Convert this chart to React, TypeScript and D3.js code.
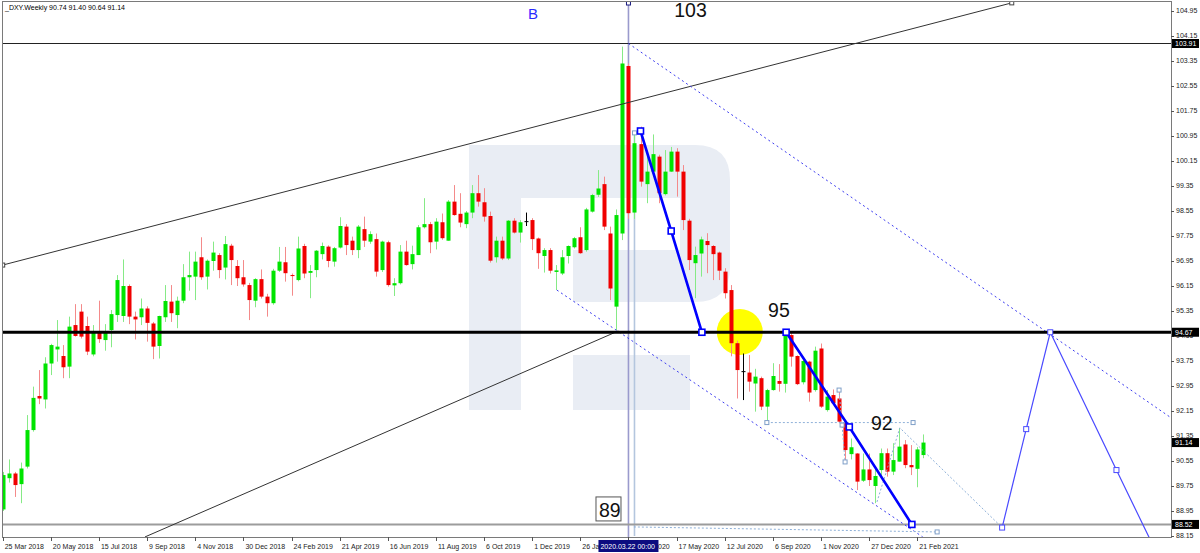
import React from "react";
import * as d3 from "d3";

// ---- weekly OHLC, first week 25 Mar 2018 ----
const opens = [
  89.0, 90.0, 90.15, 89.81, 90.37, 91.54, 92.63, 92.52, 93.67, 94.12,
  93.91, 93.57, 94.9, 95.33, 94.87, 93.96, 94.66, 94.42, 94.74, 95.22,
  95.19, 96.15, 95.17, 95.15, 95.43, 94.95, 94.23, 95.15, 95.65, 95.22,
  95.68, 96.43, 96.45, 97.07, 96.45, 96.95, 97.14, 96.74, 97.44, 96.79,
  96.43, 96.18, 95.68, 96.37, 95.81, 95.6, 96.64, 96.91, 96.5, 96.34,
  97.43, 96.57, 96.66, 97.17, 97.41, 96.93, 97.38, 98.05, 97.6, 97.3,
  97.97, 97.57, 97.65, 96.66, 97.55, 96.17, 96.24, 97.25, 96.85, 97.14,
  98.03, 98.13, 97.57, 98.19, 97.6, 98.85, 98.46, 98.13, 98.5, 99.12,
  98.83, 98.39, 97.07, 97.6, 97.03, 98.24, 97.86, 98.21, 98.26, 97.67,
  97.11, 97.3, 96.6, 96.55, 97.11, 97.39, 97.71, 97.3, 98.53, 99.07,
  99.41, 97.83, 95.49, 97.83, 103.19, 98.5, 100.69, 99.41, 99.81, 100.29,
  99.09, 99.81, 100.45, 99.81, 98.24, 96.88, 97.19, 97.59, 97.43, 97.22,
  96.61, 96.02, 94.32, 93.41, 93.38, 93.03, 93.2, 92.29, 92.82, 93.11,
  93.02, 94.58, 93.91, 93.07, 93.73, 92.82, 94.15, 92.18, 92.66, 92.55,
  91.76, 90.77, 90.79, 89.92, 90.28, 89.75, 90.26, 90.8, 90.21, 90.53,
  91.08, 90.42, 90.3, 90.74,
];
const highs = [
  90.2, 90.6, 90.2, 90.5, 92.02, 92.93, 93.46, 93.87, 94.3, 95.06,
  94.26, 95.17, 95.57, 95.57, 95.17, 94.9, 95.68, 94.93, 95.38, 96.5,
  97.0, 96.2, 95.33, 95.75, 95.5, 95.0, 95.2, 96.18, 96.18, 95.81,
  96.85, 97.25, 97.25, 97.71, 97.0, 97.57, 97.2, 97.75, 97.5, 96.98,
  96.98, 96.25, 96.4, 96.68, 95.9, 96.7, 97.4, 97.4, 96.55, 97.73,
  97.5, 96.82, 97.3, 97.54, 97.45, 97.4, 98.35, 98.13, 97.73, 98.1,
  98.37, 97.9, 97.83, 97.6, 97.6, 96.4, 97.46, 97.6, 97.44, 98.1,
  98.96, 98.2, 98.32, 98.47, 98.9, 99.38, 99.12, 98.55, 99.38, 99.7,
  99.28, 98.53, 97.73, 97.73, 98.26, 98.32, 98.26, 98.5, 98.32, 97.7,
  97.36, 97.36, 96.82, 97.3, 97.45, 97.72, 98.03, 98.65, 99.1, 99.86,
  99.65, 98.05, 98.6, 103.81, 103.27, 101.05, 101.25, 100.29, 101.0, 100.35,
  100.5, 100.6, 100.56, 100.02, 98.3, 97.41, 97.73, 97.84, 97.46, 97.25,
  96.72, 96.18, 94.4, 93.99, 93.94, 93.5, 93.25, 92.86, 93.68, 93.65,
  94.76, 94.65, 93.93, 93.8, 93.76, 94.21, 94.31, 92.82, 92.84, 92.82,
  91.78, 91.27, 90.8, 90.79, 90.79, 90.37, 90.95, 90.95, 91.12, 91.6,
  91.22, 91.06, 91.0, 91.4,
];
const lows = [
  88.95, 89.86, 89.4, 89.2, 90.31, 91.49, 92.37, 92.23, 93.3, 93.73,
  93.2, 93.2, 94.53, 94.47, 93.94, 93.9, 94.33, 94.08, 94.19, 95.0,
  95.0, 94.93, 94.44, 94.9, 94.37, 93.81, 93.83, 95.0, 95.0, 94.8,
  95.6, 96.0, 95.7, 96.35, 96.04, 96.64, 96.4, 96.36, 96.18, 96.15,
  96.13, 95.06, 95.47, 95.75, 95.17, 95.55, 96.6, 96.29, 95.84, 96.3,
  96.4, 95.76, 96.43, 97.0, 96.75, 96.77, 97.35, 97.14, 97.14, 97.04,
  97.4, 97.5, 96.45, 96.6, 96.13, 95.83, 96.2, 96.8, 96.68, 97.14,
  97.99, 97.2, 97.32, 97.63, 97.6, 98.4, 98.03, 98.0, 98.32, 98.69,
  98.21, 96.9, 96.9, 96.98, 96.98, 97.83, 97.54, 98.07, 97.3, 96.7,
  96.58, 96.55, 96.02, 96.5, 96.87, 97.35, 97.18, 97.25, 98.5, 99.0,
  97.94, 95.7, 94.74, 97.62, 98.3, 98.3, 99.33, 98.8, 99.75, 98.8,
  99.05, 99.8, 99.01, 97.94, 96.66, 95.76, 96.45, 96.56, 96.34, 96.34,
  95.75, 93.9, 92.55, 92.5, 92.77, 92.13, 92.18, 91.76, 92.8, 92.77,
  92.74, 93.57, 92.98, 93.0, 92.45, 92.77, 92.25, 92.13, 92.34, 91.76,
  90.47, 90.6, 89.62, 89.88, 89.75, 89.2, 90.07, 90.05, 90.1, 90.53,
  90.32, 90.1, 89.71, 90.64,
];
const closes = [
  90.1, 90.15, 89.78, 90.31, 91.54, 92.57, 92.55, 93.67, 94.26, 94.21,
  93.55, 94.85, 94.55, 94.53, 94.05, 94.66, 94.45, 94.66, 95.25, 96.34,
  96.15, 95.17, 95.08, 95.43, 94.97, 94.21, 95.19, 95.67, 95.28, 95.68,
  96.43, 96.5, 96.93, 96.43, 96.96, 97.22, 96.66, 97.49, 96.98, 96.4,
  96.2, 95.7, 96.37, 95.81, 95.6, 96.64, 96.93, 96.56, 96.47, 97.35,
  96.55, 96.63, 97.28, 97.43, 96.95, 97.36, 98.07, 97.46, 97.3, 98.05,
  97.6, 97.81, 96.61, 97.57, 96.18, 96.24, 97.25, 96.82, 97.17, 98.03,
  98.13, 97.55, 98.21, 97.68, 98.85, 98.42, 98.18, 98.5, 99.12, 98.85,
  98.37, 96.96, 97.6, 97.03, 98.24, 97.86, 98.19, 98.21, 97.65, 97.2,
  97.3, 96.64, 96.65, 97.07, 97.43, 97.68, 97.2, 98.6, 99.06, 99.27,
  98.05, 96.07, 98.42, 103.27, 98.48, 100.72, 99.49, 99.81, 100.37, 99.12,
  99.81, 100.45, 99.81, 98.26, 96.98, 97.14, 97.64, 97.46, 97.17, 96.64,
  95.92, 94.32, 93.46, 93.41, 93.09, 93.25, 92.29, 92.82, 93.27, 93.02,
  94.74, 93.89, 93.01, 93.75, 92.74, 94.08, 92.29, 92.61, 92.4, 91.81,
  90.9, 90.99, 89.89, 90.28, 89.94, 90.07, 90.8, 90.21, 90.58, 91.01,
  90.42, 90.35, 90.92, 91.14,
];

const symbolTitle = "_DXY.Weekly  90.74 91.40 90.64 91.14";
const xTickStep = 8;
const xTickLabels = [
  "25 Mar 2018", "20 May 2018", "15 Jul 2018", "9 Sep 2018", "4 Nov 2018",
  "30 Dec 2018", "24 Feb 2019", "21 Apr 2019", "16 Jun 2019", "11 Aug 2019",
  "6 Oct 2019", "1 Dec 2019", "26 Jan 2020", "22 Mar 2020", "17 May 2020",
  "12 Jul 2020", "6 Sep 2020", "1 Nov 2020", "27 Dec 2020", "21 Feb 2021",
];
const priceTicks = [
  104.95, 104.15, 103.35, 102.55, 101.75, 100.95, 100.15, 99.35, 98.55, 97.75,
  96.95, 96.15, 95.35, 94.55, 93.75, 92.95, 92.15, 91.35, 90.55, 89.75, 88.95, 88.15,
];
const levelHigh = 103.91;
const levelMain = 94.67;
const levelLow = 88.52;
const currentPrice = 91.14;
const cursorIndex = 104;
const cursorLabel = "2020.03.22 00:00";

// annotation geometry in (week index, price)
const upperChannel: [number, number][] = [[0, 96.82], [167.7, 105.21]];
const lowerChannel: [number, number][] = [[23.65, 88.12], [102.3, 94.71]];
const upperDash: [number, number][] = [[104, 103.91], [194.2, 91.93]];
const lowerDash: [number, number][] = [[92.1, 96.02], [152.9, 88.12]];
const wave1: [number, number][] = [[106, 101.11], [111.1, 97.91], [116.2, 94.67]];
const wave2: [number, number][] = [[130.2, 94.67], [140.7, 91.64], [151.1, 88.52]];
const projection: [number, number][] = [[166.1, 88.42], [170.1, 91.57], [174.1, 94.67], [185.1, 90.26], [191.8, 87.6]];
const lightLines: [number, number][][] = [
  [[127.0, 91.78], [151.3, 91.78]],
  [[145.3, 89.24], [149.1, 91.61], [166.1, 88.42]],
  [[104.9, 88.44], [155.3, 88.28]],
  [[139.0, 92.82], [139.5, 91.7], [140.0, 90.52]],
];
const lightSquares: [number, number][] = [[151.3, 91.78], [155.3, 88.28], [139.0, 92.82], [139.5, 91.7], [140.0, 90.52], [105, 101.05], [127.0, 91.78]];
const secondVertical: [number, number][] = [[105, 101.05], [105, 88.15]];
const sunCenter: [number, number] = [122.5, 94.68];
const waveLabels = [
  { text: "103", i: 111.6, p: 104.76 },
  { text: "95", i: 127.2, p: 95.16 },
  { text: "92", i: 144.3, p: 91.54 },
];
const boxedLabel = { text: "89", i: 99.1, p: 88.76 };
const blueLabel = { text: "B", i: 87.3, p: 104.69 };

export default function App() {
  const W = 1200, H = 553;
  const L = 2, T = 1, R = 1171, B = 537;
  const n = opens.length;
  const step = 6.017;
  const x = d3.scaleLinear().domain([0, n - 1]).range([2.7, 2.7 + (n - 1) * step]);
  const y = d3.scaleLinear().domain([88.15, 104.95]).range([536, 11]);
  const line = d3.line<[number, number]>().x((d) => x(d[0])).y((d) => y(d[1]));
  const font = "'Liberation Sans', Arial, sans-serif";

  const green = "#00e400";
  const red = "#f00000";

  const sq = (p: [number, number], s: number, stroke: string, key: string, sw = 1.2) => (
    <rect key={key} x={x(p[0]) - s / 2} y={y(p[1]) - s / 2} width={s} height={s} fill="white" stroke={stroke} strokeWidth={sw} />
  );

  const ticksX = xTickLabels.map((lab, k) => ({ lab, i: k * xTickStep }));

  return (
    <svg width={W} height={H} style={{ position: "absolute", left: 0, top: 0, background: "white" }} fontFamily={font}>
      <defs>
        <clipPath id="plot">
          <rect x={L} y={T} width={R - L} height={B - T} />
        </clipPath>
      </defs>
      <rect x={0} y={0} width={W} height={H} fill="white" />
      {/* watermark */}
      <g fill="#e9edf4">
        <rect x={469} y={145} width={52} height={265} />
        <path d="M521,145 H695 Q730,145 730,180 V267 Q730,302 695,302 H573 V250 H680 V198 H521 Z" />
        <rect x={573} y={355} width={117} height={55} />
      </g>
      <g clipPath="url(#plot)">
        {/* yellow marker */}
        <circle cx={x(sunCenter[0])} cy={y(sunCenter[1])} r={23} fill="#ffff00" />
        {/* vertical cursor lines */}
        <line x1={x(cursorIndex)} x2={x(cursorIndex)} y1={3} y2={B} stroke="#9a9acd" strokeWidth={1.6} />
        <path d={line(secondVertical) || ""} stroke="#b4c6de" strokeWidth={1.6} fill="none" />
        {/* candles */}
        {opens.map((o, i) => {
          const c = closes[i];
          const cx = Math.round(x(i));
          const doji = Math.abs(o - c) < 0.005;
          const up = c > o;
          const col = doji ? "#000" : up ? green : red;
          const wickCol = doji ? "#000" : up ? "#86ea86" : "#f48a8a";
          const top = y(Math.max(o, c));
          const bot = y(Math.min(o, c));
          return (
            <g key={i}>
              <line x1={cx + 0.5} x2={cx + 0.5} y1={y(highs[i])} y2={y(lows[i])} stroke={wickCol} strokeWidth={1} />
              {doji ? (
                <line x1={cx - 1.5} x2={cx + 2.5} y1={top} y2={top} stroke="#000" strokeWidth={1} />
              ) : (
                <rect x={cx - 1.5} y={top} width={4} height={Math.max(1, bot - top)} fill={col} />
              )}
            </g>
          );
        })}
        {/* horizontal levels */}
        <line x1={L} x2={R} y1={y(levelHigh)} y2={y(levelHigh)} stroke="#222" strokeWidth={1} />
        <line x1={L} x2={R} y1={y(levelLow)} y2={y(levelLow)} stroke="#9c9c9c" strokeWidth={2} />
        {/* channels */}
        <path d={line(upperChannel) || ""} stroke="#333" strokeWidth={1} fill="none" />
        <path d={line(lowerChannel) || ""} stroke="#333" strokeWidth={1} fill="none" />
        <path d={line(upperDash) || ""} stroke="#3c3cf0" strokeWidth={1} strokeDasharray="2,3" fill="none" />
        <path d={line(lowerDash) || ""} stroke="#3c3cf0" strokeWidth={1} strokeDasharray="2,3" fill="none" />
        {lightLines.map((pts, k) => (
          <path key={k} d={line(pts) || ""} stroke="#8eb0d8" strokeWidth={1} strokeDasharray="2,2" fill="none" />
        ))}
        {lightSquares.map((p, k) => sq(p, 4, "#7f9fc8", "ls" + k, 1))}
        <line x1={L} x2={R} y1={y(levelMain)} y2={y(levelMain)} stroke="#000" strokeWidth={3} />
        {/* waves */}
        <path d={line(projection) || ""} stroke="#4a4aff" strokeWidth={1.2} fill="none" />
        {projection.slice(0, 4).map((p, k) => sq(p, 5, "#4a4aff", "pj" + k, 1))}
        <path d={line(wave1) || ""} stroke="#0000ff" strokeWidth={2.6} fill="none" />
        <path d={line(wave2) || ""} stroke="#0000ff" strokeWidth={2.6} fill="none" />
        {wave1.map((p, k) => sq(p, 6, "#0000ff", "w1" + k, 1.6))}
        {wave2.map((p, k) => sq(p, 6, "#0000ff", "w2" + k, 1.6))}
        {sq(upperChannel[0], 4, "#444", "uc0", 1)}
        {sq(upperChannel[1], 4, "#444", "uc1", 1)}
        <rect x={x(cursorIndex) - 2} y={1} width={4} height={4} fill="white" stroke="#1a1a80" strokeWidth={1} />
        {/* wave labels */}
        <text x={x(blueLabel.i)} y={y(blueLabel.p)} fontSize={15} fill="#2b2bff" fontFamily="Arial, 'Liberation Sans', sans-serif">{blueLabel.text}</text>
        {waveLabels.map((w) => (
          <text key={w.text} x={x(w.i)} y={y(w.p)} fontSize={19.5} fill="#111" fontFamily="Arial, 'Liberation Sans', sans-serif">{w.text}</text>
        ))}
        <rect x={x(boxedLabel.i) - 3} y={y(boxedLabel.p) - 20} width={25} height={24} fill="white" stroke="#555" strokeWidth={1} />
        <text x={x(boxedLabel.i)} y={y(boxedLabel.p)} fontSize={19.5} fill="#111" fontFamily="Arial, 'Liberation Sans', sans-serif">{boxedLabel.text}</text>
      </g>
      {/* frame */}
      <rect x={L + 0.5} y={T + 0.5} width={R - L} height={B - T} fill="none" stroke="#7a7a7a" strokeWidth={1} />
      {/* title */}
      <text x={5} y={9.5} fontSize={7} fill="#000">{symbolTitle}</text>
      {/* price axis */}
      {priceTicks.map((p) => (
        <g key={p}>
          <line x1={R} x2={R + 3} y1={Math.round(y(p)) + 0.5} y2={Math.round(y(p)) + 0.5} stroke="#555" />
          <text x={R + 5} y={y(p)} dy="0.35em" fontSize={7} fill="#222">{p.toFixed(2)}</text>
        </g>
      ))}
      {[levelHigh, levelMain, currentPrice, levelLow].map((p) => (
        <g key={"b" + p}>
          <rect x={R + 1} y={y(p) - 4.5} width={27} height={9} fill="#000" />
          <text x={R + 4} y={y(p)} dy="0.35em" fontSize={7} fill="#fff">{p.toFixed(2)}</text>
        </g>
      ))}
      {/* time axis */}
      {ticksX.map((t) => (
        <g key={t.lab}>
          <line x1={Math.round(x(t.i)) + 0.5} x2={Math.round(x(t.i)) + 0.5} y1={B} y2={B + 4} stroke="#555" />
          <text x={x(t.i) + 2} y={549} fontSize={7} fill="#222">{t.lab}</text>
        </g>
      ))}
      <rect x={x(cursorIndex) - 30} y={540} width={60} height={12} fill="#0c0c80" />
      <text x={x(cursorIndex) - 28} y={549} fontSize={7} fill="#fff">{cursorLabel}</text>
    </svg>
  );
}
